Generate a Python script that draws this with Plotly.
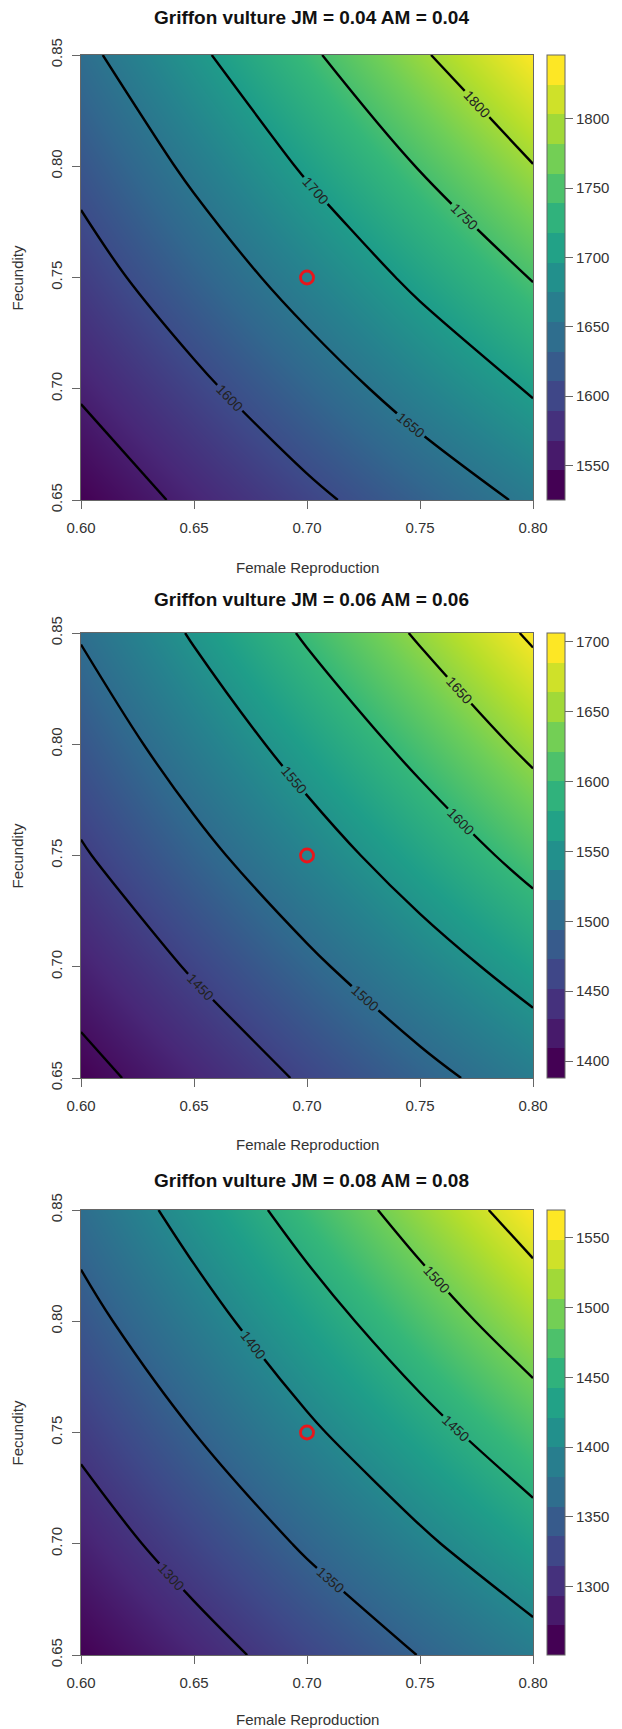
import plotly.graph_objects as go
from plotly.colors import sample_colorscale

# ---------------- data ----------------
female_reproduction = [0.60, 0.65, 0.70, 0.75, 0.80]
fecundity = [0.65, 0.70, 0.75, 0.80, 0.85]

# rows = fecundity (bottom -> top), columns = female reproduction (left -> right)
z_jm004 = [
    [1525, 1558, 1591, 1624, 1657],
    [1554, 1591, 1629, 1667, 1704],
    [1583, 1625, 1667, 1709, 1752],
    [1611, 1658, 1705, 1752, 1799],
    [1640, 1692, 1743, 1795, 1846],
]
z_jm006 = [
    [1388, 1421, 1455, 1488, 1521],
    [1417, 1454, 1492, 1530, 1567],
    [1446, 1488, 1530, 1572, 1614],
    [1474, 1521, 1567, 1613, 1660],
    [1503, 1554, 1605, 1655, 1706],
]
z_jm008 = [
    [1251, 1284, 1318, 1351, 1384],
    [1280, 1317, 1355, 1393, 1431],
    [1308, 1350, 1393, 1435, 1477],
    [1337, 1383, 1430, 1477, 1524],
    [1365, 1416, 1468, 1519, 1570],
]

titles = ["Griffon vulture JM = 0.04 AM = 0.04",
          "Griffon vulture JM = 0.06 AM = 0.06",
          "Griffon vulture JM = 0.08 AM = 0.08"]
colorbar_ticks = [
    [1550, 1600, 1650, 1700, 1750, 1800],
    [1400, 1450, 1500, 1550, 1600, 1650, 1700],
    [1300, 1350, 1400, 1450, 1500, 1550],
]
contour_start = [1550, 1400, 1300]
contour_end = [1800, 1700, 1550]
contour_step = 50

x_ticks = [0.60, 0.65, 0.70, 0.75, 0.80]
y_ticks = [0.65, 0.70, 0.75, 0.80, 0.85]

current_x = [0.70]
current_y = [0.75]

x_label = "Female Reproduction"
y_label = "Fecundity"

# ---------------- layout geometry (page pixels) ----------------
PAGE_W, PAGE_H = 622, 1729
OFF = 8                      # default body margin of the html page
W, H = PAGE_W - OFF, PAGE_H - OFF
plot_left, plot_right = 81, 533
panel_px = [(55, 500), (633, 1078), (1210, 1655)]
title_px = [18, 600, 1180]
xlabel_px = [567, 1144, 1719]

L = plot_left - OFF
R = W - (plot_right - OFF)
T = panel_px[0][0] - OFF
B = H - (panel_px[-1][1] - OFF)
PW = W - L - R
PH = H - T - B

FONT = "Liberation Sans, Arial, Helvetica, sans-serif"
TXT = "#333333"
AX = "#666666"


def py2paper(py):
    return (H - B - (py - OFF)) / PH


def px2paper(px):
    return (px - OFF - L) / PW


n_bands = 15
band_cols = sample_colorscale("Viridis", [i / (n_bands - 1) for i in range(n_bands)])
stepped = []
for i, c in enumerate(band_cols):
    stepped.append([i / n_bands, c])
    stepped.append([(i + 1) / n_bands, c])

fig = go.Figure()
zs = [z_jm004, z_jm006, z_jm008]
annotations = []

for i, z in enumerate(zs):
    n = "" if i == 0 else str(i + 1)
    xa, ya = "x" + n, "y" + n
    top, bot = panel_px[i]
    zmin = min(min(r) for r in z)
    zmax = max(max(r) for r in z)
    ymid = py2paper((top + bot) / 2)

    # covered trace carrying the stepped colour key
    fig.add_trace(go.Heatmap(
        x=female_reproduction, y=fecundity, z=z, zmin=zmin, zmax=zmax,
        colorscale=stepped, showscale=True, hoverinfo="skip",
        xaxis=xa, yaxis=ya,
        colorbar=dict(
            x=px2paper(547), xanchor="left", y=ymid, yanchor="middle",
            thickness=18, lenmode="pixels", len=bot - top,
            xpad=0, ypad=0, outlinewidth=1, outlinecolor=AX,
            ticks="outside", ticklen=8, tickwidth=1, tickcolor=AX,
            tickvals=colorbar_ticks[i], tickformat="d",
            tickfont=dict(family=FONT, size=15, color=TXT),
        ),
    ))
    # smooth field
    fig.add_trace(go.Heatmap(
        x=female_reproduction, y=fecundity, z=z, zmin=zmin, zmax=zmax,
        colorscale="Viridis", zsmooth="best", showscale=False,
        hoverinfo="skip", xaxis=xa, yaxis=ya,
    ))
    # contour lines
    fig.add_trace(go.Contour(
        x=female_reproduction, y=fecundity, z=z,
        contours=dict(coloring="none", start=contour_start[i], end=contour_end[i],
                      size=contour_step, showlabels=True,
                      labelfont=dict(family=FONT, size=14, color="#222222")),
        line=dict(color="black", width=2.4, smoothing=1),
        showscale=False, hoverinfo="skip", xaxis=xa, yaxis=ya,
    ))
    # current parameter point
    fig.add_trace(go.Scatter(
        x=current_x, y=current_y, mode="markers",
        marker=dict(symbol="circle-open", size=13, color="#e8161b",
                    line=dict(width=2.8, color="#e8161b")),
        showlegend=False, hoverinfo="skip", xaxis=xa, yaxis=ya,
    ))

    axis_common = dict(showgrid=False, zeroline=False, showline=True, linecolor=AX,
                       linewidth=1, mirror=True, ticks="outside", ticklen=8,
                       tickwidth=1, tickcolor=AX,
                       tickfont=dict(family=FONT, size=15, color=TXT))
    fig.layout["xaxis" + n] = dict(
        domain=[0, 1], range=[0.60, 0.80], anchor=ya,
        tickvals=x_ticks, ticktext=["%.2f" % v for v in x_ticks],
        ticklabelstandoff=6, **axis_common)
    fig.layout["yaxis" + n] = dict(
        domain=[py2paper(bot), py2paper(top)], range=[0.65, 0.85], anchor=xa,
        tickvals=y_ticks, ticktext=["%.2f" % v for v in y_ticks],
        tickangle=-90, ticklabelstandoff=4, **axis_common)

    annotations.append(dict(
        text="<b>%s</b>" % titles[i], xref="paper", yref="paper",
        x=px2paper(311), y=py2paper(title_px[i]), xanchor="center", yanchor="middle",
        showarrow=False, font=dict(family=FONT, size=19, color="#111111")))
    annotations.append(dict(
        text=x_label, xref="paper", yref="paper",
        x=px2paper(307), y=py2paper(xlabel_px[i]), xanchor="center", yanchor="middle",
        showarrow=False, font=dict(family=FONT, size=15, color=TXT)))
    annotations.append(dict(
        text=y_label, xref="paper", yref="paper", textangle=-90,
        x=px2paper(17), y=ymid, xanchor="center", yanchor="middle",
        showarrow=False, font=dict(family=FONT, size=15, color=TXT)))

fig.update_layout(
    width=W, height=H, margin=dict(l=L, r=R, t=T, b=B, pad=0),
    paper_bgcolor="white", plot_bgcolor="white",
    showlegend=False, annotations=annotations,
    font=dict(family=FONT, color=TXT),
)

fig.write_html("out.html")
